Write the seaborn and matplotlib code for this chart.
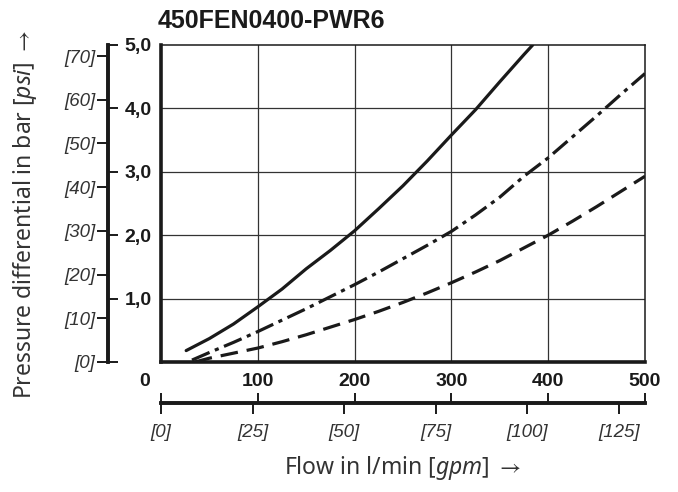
import matplotlib
matplotlib.use("Agg")
import matplotlib.pyplot as plt
import matplotlib.transforms as mtransforms
import pandas as pd
import seaborn as sns

# curves: flow in l/min, pressure differential in bar
flow_solid = [26, 50, 75, 100, 125, 150, 175, 200, 225, 250, 275, 300, 325, 350, 375, 384]
dp_solid = [0.18, 0.37, 0.6, 0.87, 1.15, 1.47, 1.76, 2.07, 2.42, 2.78, 3.17, 3.58, 3.98, 4.42, 4.85, 5.0]

flow_dashdot = [32, 50, 75, 100, 125, 150, 175, 200, 225, 250, 275, 300, 325, 350, 375, 400, 425, 450, 475, 500]
dp_dashdot = [0.03, 0.15, 0.31, 0.48, 0.66, 0.84, 1.03, 1.22, 1.42, 1.63, 1.84, 2.06, 2.32, 2.6, 2.93, 3.22,
              3.55, 3.88, 4.22, 4.55]

flow_dashed = [35, 50, 75, 100, 125, 150, 175, 200, 225, 250, 275, 300, 325, 350, 375, 400, 425, 450, 475, 500]
dp_dashed = [0.0, 0.06, 0.14, 0.22, 0.32, 0.43, 0.55, 0.67, 0.8, 0.94, 1.09, 1.25, 1.42, 1.6, 1.8, 2.0,
             2.22, 2.45, 2.69, 2.93]

bar_ticks = [0, 1, 2, 3, 4, 5]
bar_labels = ["", "1,0", "2,0", "3,0", "4,0", "5,0"]
psi_ticks = [0, 10, 20, 30, 40, 50, 60, 70]
lmin_ticks = [0, 100, 200, 300, 400, 500]
gpm_ticks = [0, 25, 50, 75, 100, 125]

title = "450FEN0400-PWR6"
ylabel = "Pressure differential in bar $\\it{[psi]}$ $\\rightarrow$"
xlabel = "Flow in l/min $\\it{[gpm]}$ $\\rightarrow$"

BAR_TO_PSI = 14.5038
GPM_TO_LMIN = 3.78541

df = pd.concat([
    pd.DataFrame({"flow": flow_solid, "dp": dp_solid, "curve": "solid"}),
    pd.DataFrame({"flow": flow_dashdot, "dp": dp_dashdot, "curve": "dashdot"}),
    pd.DataFrame({"flow": flow_dashed, "dp": dp_dashed, "curve": "dashed"}),
])

sns.set_style("white")
plt.rcParams["font.family"] = ["Liberation Sans Narrow", "Liberation Sans", "DejaVu Sans"]
plt.rcParams["mathtext.fontset"] = "custom"
plt.rcParams["mathtext.rm"] = "Noto Sans"
plt.rcParams["mathtext.it"] = "Noto Sans:italic"
plt.rcParams["mathtext.fallback"] = "stixsans"

ink = "#1a1a1a"
fig = plt.figure(figsize=(6.78, 4.92), dpi=100)
W, H = 678, 492
ax = fig.add_axes([161 / W, (H - 362) / H, 484 / W, 317 / H])

sns.lineplot(data=df, x="flow", y="dp", style="curve",
             dashes={"solid": "", "dashdot": (6, 1.8, 1.3, 1.8), "dashed": (5.5, 2.8)},
             color=ink, lw=2.3, legend=False, sort=False, ax=ax)

ax.set_xlim(0, 500)
ax.set_ylim(0, 5)
ax.set_xticks([100, 200, 300, 400])
ax.set_yticks([1, 2, 3, 4])
ax.grid(True, color="#333333", lw=0.9)
ax.tick_params(length=0, labelleft=False, labelbottom=False)
ax.set_xlabel("")
ax.set_ylabel("")
for side in ["left", "bottom"]:
    ax.spines[side].set_linewidth(2.6)
for side in ["top", "right"]:
    ax.spines[side].set_linewidth(1.1)
for s in ax.spines.values():
    s.set_color(ink)
    s.set_visible(True)

ax.set_title(title, loc="left", x=-0.006, fontsize=18, fontweight="bold",
             family="Liberation Sans", pad=12, color=ink)

# dual y axis left of the plot
yloc = -53 / 484
psi_ax = ax.secondary_yaxis(yloc, functions=(lambda b: b * BAR_TO_PSI, lambda p: p / BAR_TO_PSI))
psi_ax.set_yticks(psi_ticks, labels=[f"[{p}]" for p in psi_ticks])
psi_ax.tick_params(direction="out", length=8, width=1.4, color=ink, pad=1,
                   labelsize=13.5, labelcolor="#333333")
for lab in psi_ax.get_yticklabels():
    lab.set_style("italic")
psi_ax.spines["left"].set_linewidth(2.6)
psi_ax.spines["left"].set_color(ink)

bar_ax = ax.secondary_yaxis(yloc)
bar_ax.set_alignment("right")
bar_ax.set_yticks(bar_ticks, labels=bar_labels)
bar_ax.tick_params(direction="out", length=7, width=1.4, color=ink, pad=5,
                   labelsize=14, labelcolor=ink)
for lab in bar_ax.get_yticklabels():
    lab.set_fontweight("bold")
bar_ax.spines["right"].set_linewidth(2.6)
bar_ax.spines["right"].set_color(ink)

# dual x axis below the plot
xloc = -41 / 317
lmin_ax = ax.secondary_xaxis(xloc)
lmin_ax.set_alignment("top")
lmin_ax.set_xticks(lmin_ticks, labels=[str(v) for v in lmin_ticks])
lmin_ax.tick_params(direction="out", length=7, width=1.4, color=ink, pad=2,
                    labelsize=14, labelcolor=ink)
for lab in lmin_ax.get_xticklabels():
    lab.set_fontweight("bold")
first = lmin_ax.get_xticklabels()[0]
first.set_transform(first.get_transform()
                    + mtransforms.ScaledTranslation(-16 / 100, 0, fig.dpi_scale_trans))
lmin_ax.spines["top"].set_linewidth(2.6)
lmin_ax.spines["top"].set_color(ink)

gpm_ax = ax.secondary_xaxis(xloc, functions=(lambda l: l / GPM_TO_LMIN, lambda g: g * GPM_TO_LMIN))
gpm_ax.set_alignment("bottom")
gpm_ax.set_xticks(gpm_ticks, labels=[f"[{g}]" for g in gpm_ticks])
gpm_ax.tick_params(direction="out", length=8, width=1.4, color=ink, pad=7,
                   labelsize=13.5, labelcolor="#333333")
for lab in gpm_ax.get_xticklabels():
    lab.set_style("italic")
gpm_ax.spines["bottom"].set_linewidth(2.6)
gpm_ax.spines["bottom"].set_color(ink)

label_fonts = ["Noto Sans", "DejaVu Sans"]
fig.text(25 / W, 1 - 214 / H, ylabel, rotation=90, ha="center", va="center",
         fontsize=16.5, family=label_fonts, color="#333333")
fig.text(402 / W, 1 - 468 / H, xlabel, ha="center", va="center",
         fontsize=16.5, family=label_fonts, color="#333333")

fig.savefig("out.png", dpi=100)
